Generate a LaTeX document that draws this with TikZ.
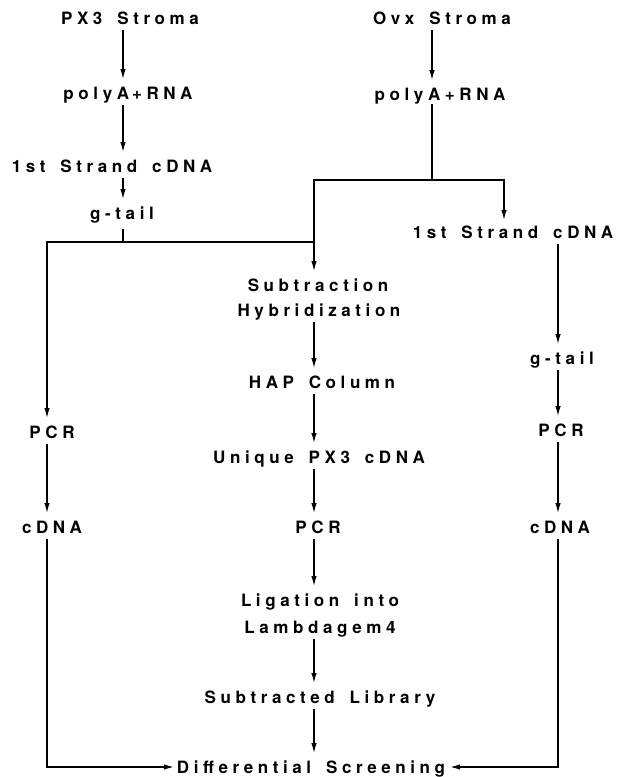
\documentclass[tikz,border=0pt]{standalone}
\usepackage{fontspec}
\setmainfont{TeX Gyre Heros}[LetterSpace=27, WordSpace=1.6]
\usetikzlibrary{arrows.meta}
\begin{document}
\begin{tikzpicture}[x=1pt,y=-1pt,
  lab/.style={font=\bfseries\fontsize{17}{19}\selectfont, inner sep=0pt, outer sep=0pt, text height=12pt, text depth=0pt},
  ln/.style={line width=1.3pt},
  arr/.style={ln, -{Latex[length=10pt,width=5.5pt]}, shorten <=6pt, shorten >=8pt}]
\useasboundingbox (0,0) rectangle (622,777);
% column coordinates
\coordinate (xA) at (123,0);
\coordinate (xB) at (432,0);
\coordinate (xM) at (314,0);
\coordinate (xC) at (47,0);
\coordinate (xD) at (558,0);
\coordinate (xR) at (504,0);
\coordinate (jL) at (123,242);
\coordinate (jM1) at (314,242);
\coordinate (jTop) at (432,180);
% left branch
\node[lab] (px3) at (130,18) {PX3 Stroma};
\node[lab] (polyL) at (128,93) {polyA\hspace{3pt}+RNA};
\node[lab] (st1L) at (112,166) {1st Strand cDNA};
\node[lab] (gtL) at (122,213) {g-tail};
% right top
\node[lab] (ovx) at (442,18) {Ovx Stroma};
\node[lab] (polyR) at (440,94) {polyA+RNA};
\node[lab] (st1R) at (513,232) {1st Strand cDNA};
% middle
\node[lab] (sub1) at (318,285) {Subtraction};
\node[lab] (sub2) at (319,310) {Hybridization};
\node[lab] (hap) at (322,382) {HAP Column};
\node[lab] (uniq) at (319,457) {Unique PX3 cDNA};
\node[lab] (pcrM) at (318,527) {PCR};
\node[lab] (lig1) at (320,600) {Ligation into};
\node[lab] (lig2) at (320,627) {Lambdagem4};
\node[lab] (slib) at (320,697) {Subtracted Library};
\node[lab] (diff) at (311,767) {Differential Screening};
% left column
\node[lab] (pcrL) at (52,432) {PCR};
\node[lab] (cdnaL) at (52,527) {cDNA};
% right column
\node[lab] (gtR) at (562,358) {g-tail};
\node[lab] (pcrR) at (561,430) {PCR};
\node[lab] (cdnaR) at (560,527) {cDNA};
% connectors left top
\draw[arr] (px3.south -| xA) -- (polyL.north -| xA);
\draw[arr] (polyL.south -| xA) -- (st1L.north -| xA);
\draw[arr] (st1L.south -| xA) -- (gtL.north -| xA);
\draw[ln, shorten <=10pt] (gtL.south -| xA) -- (jL);
\draw[arr, shorten <=0pt] (jM1) -| (pcrL.north -| xC);
% right top
\draw[arr] (ovx.south -| xB) -- (polyR.north -| xB);
\draw[ln, shorten <=4pt] (polyR.south -| xB) -- (jTop);
\draw[arr, shorten <=0pt] (jTop) -| (sub1.north -| xM);
\draw[arr, shorten <=0pt, shorten >=6pt] (jTop) -| (st1R.north -| xR);
% middle
\draw[arr] (sub2.south -| xM) -- (hap.north -| xM);
\draw[arr] (hap.south -| xM) -- (uniq.north -| xM);
\draw[arr] (uniq.south -| xM) -- (pcrM.north -| xM);
\draw[arr] (pcrM.south -| xM) -- (lig1.north -| xM);
\draw[arr] (lig2.south -| xM) -- (slib.north -| xM);
\draw[arr] (slib.south -| xM) -- (diff.north -| xM);
% left column
\draw[arr] (pcrL.south -| xC) -- (cdnaL.north -| xC);
\draw[arr, shorten >=3pt] (cdnaL.south -| xC) |- (diff.west);
% right column
\draw[arr] (st1R.south -| xD) -- (gtR.north -| xD);
\draw[arr] (gtR.south -| xD) -- (pcrR.north -| xD);
\draw[arr] (pcrR.south -| xD) -- (cdnaR.north -| xD);
\draw[arr, shorten >=5pt] (cdnaR.south -| xD) |- (diff.east);
\end{tikzpicture}
\end{document}
